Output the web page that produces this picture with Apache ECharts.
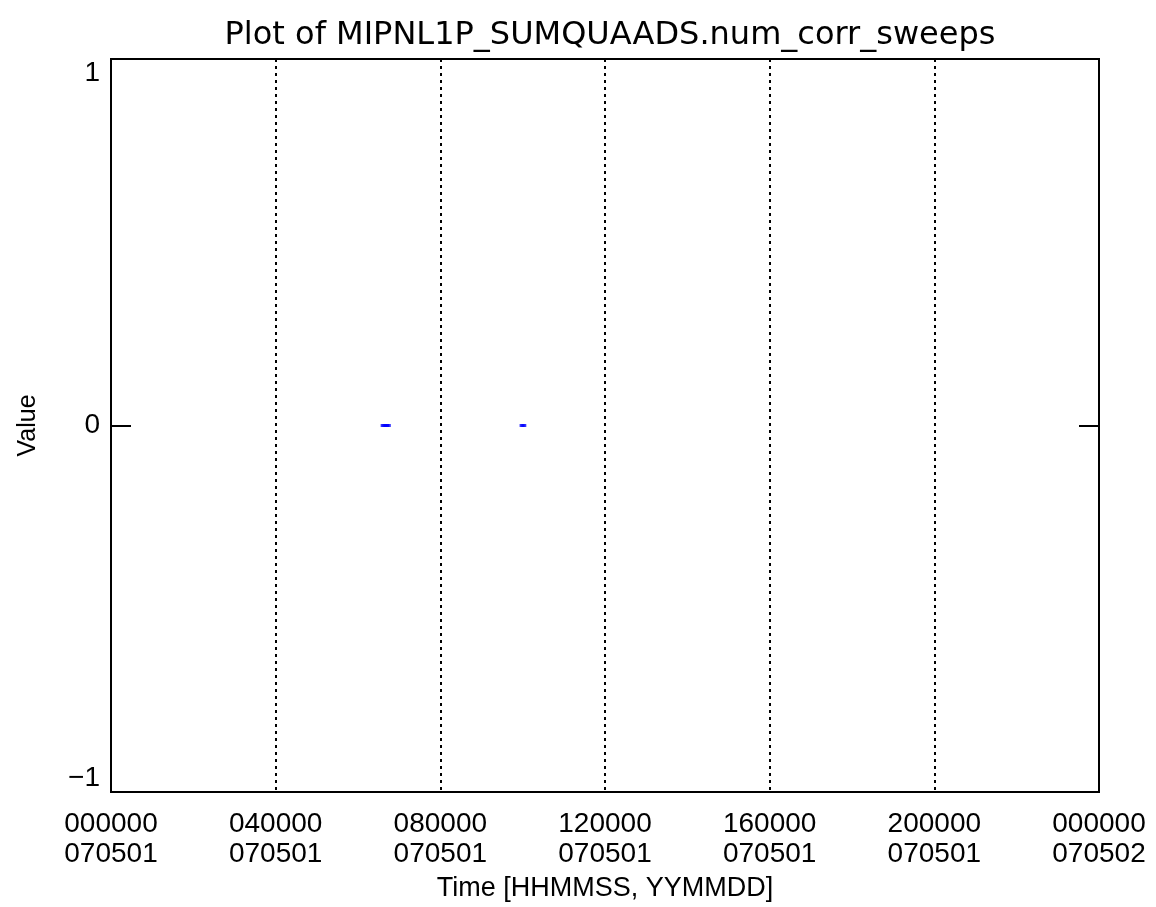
<!DOCTYPE html>
<html>
<head>
<meta charset="utf-8">
<script src="https://cdn.jsdelivr.net/npm/echarts@6/dist/echarts.min.js"></script>
<style>
html,body{margin:0;padding:0;background:#fff;}
#chart{width:1156px;height:907px;}
</style>
</head>
<body>
<div id="chart"></div>
<script>
// Data: time in seconds since 2007-05-01 00:00:00, value
const timesSec = [23800, 23950, 24100, 24250, 35950, 36100];
const values   = [0, 0, 0, 0, 0, 0];
const xTickValues = [0, 14400, 28800, 43200, 57600, 72000, 86400];
const xTickLabels = [
  "000000\n070501", "040000\n070501", "080000\n070501", "120000\n070501",
  "160000\n070501", "200000\n070501", "000000\n070502"
];
const yTickLabels = { "-1": "\u22121", "0": "0", "1": "1" };
const titleText = "Plot of MIPNL1P_SUMQUAADS.num_corr_sweeps";
const xName = "Time [HHMMSS, YYMMDD]";
const yName = "Value";

const chart = echarts.init(document.getElementById('chart'), null, {renderer: 'canvas'});
const pts = timesSec.map((t, i) => [t, values[i]]);
const font = "Liberation Sans";

chart.setOption({
  animation: false,
  backgroundColor: '#ffffff',
  title: {
    text: titleText,
    left: 605,
    textAlign: 'center',
    top: 15,
    textStyle: { fontFamily: 'DejaVu Sans', fontSize: 32, fontWeight: 'normal', color: '#000' }
  },
  grid: {
    left: 111, right: 57, top: 59, bottom: 115,
    show: true, borderColor: '#000', borderWidth: 2, backgroundColor: 'transparent'
  },
  xAxis: {
    type: 'value', min: 0, max: 86400, interval: 14400,
    name: xName, nameLocation: 'middle', nameGap: 83,
    nameTextStyle: { fontFamily: font, fontSize: 27, color: '#000' },
    axisLine: { show: true, onZero: false, lineStyle: { color: '#000', width: 2 } },
    axisTick: { show: false },
    axisLabel: {
      margin: 17, fontFamily: font, fontSize: 28, color: '#000', lineHeight: 30,
      formatter: function (v) { const i = xTickValues.indexOf(v); return i >= 0 ? xTickLabels[i] : ''; }
    },
    splitLine: { show: true, lineStyle: { color: '#000', width: 2, type: [3, 4] } }
  },
  yAxis: [{
    type: 'value', min: -1, max: 1, interval: 1, position: 'left',
    name: yName, nameLocation: 'middle', nameGap: 70,
    nameTextStyle: { fontFamily: font, fontSize: 25, color: '#000' },
    axisLine: { show: true, lineStyle: { color: '#000', width: 2 } },
    axisTick: { show: true, inside: true, length: 20, lineStyle: { color: '#000', width: 2 } },
    axisLabel: {
      margin: 11, fontFamily: font, fontSize: 28, color: '#000',
      verticalAlignMaxLabel: 'top', verticalAlignMinLabel: 'bottom',
      formatter: function (v) { return yTickLabels[String(v)]; }
    },
    splitLine: { show: false }
  }, {
    type: 'value', min: -1, max: 1, interval: 1, position: 'right',
    axisLine: { show: true, lineStyle: { color: '#000', width: 2 } },
    axisTick: { show: true, inside: true, length: 20, lineStyle: { color: '#000', width: 2 } },
    axisLabel: { show: false },
    splitLine: { show: false }
  }],
  series: [{
    type: 'scatter',
    data: pts,
    symbol: 'rect',
    symbolSize: [5, 3],
    itemStyle: { color: '#0000ff' }
  }]
});
</script>
</body>
</html>
